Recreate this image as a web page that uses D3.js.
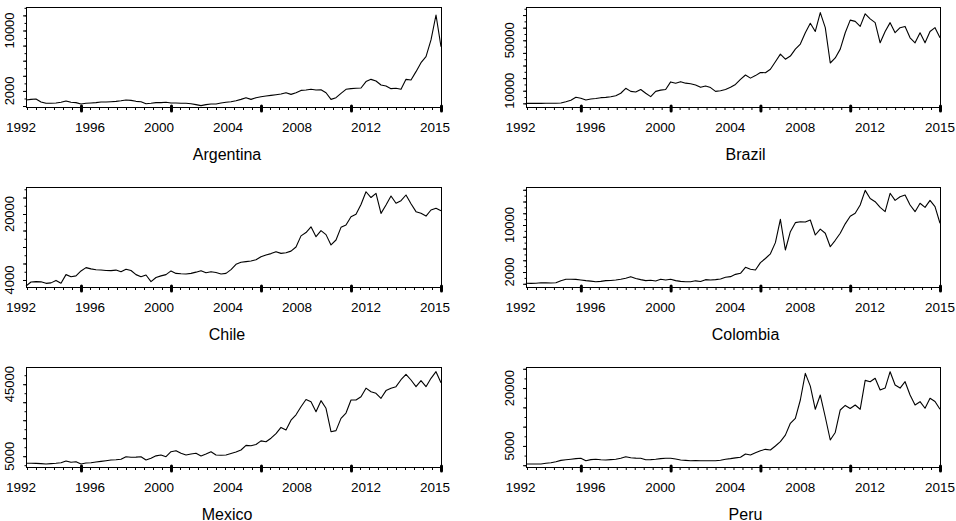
<!DOCTYPE html>
<html><head><meta charset="utf-8">
<script src="https://cdn.jsdelivr.net/npm/d3@7"></script>
<style>body{margin:0;background:#fff}svg{display:block}</style>
</head><body>
<svg id="c" width="956" height="521"></svg>
<script>
// ---- data (index values sampled evenly over the observation range) ----
const countries = ["Argentina","Brazil","Chile","Colombia","Mexico","Peru"];
const xLabels = ["1992","1996","2000","2004","2008","2012","2015"];
const nObs = 4611;
const xMajorTicks = [611,1611,2611,3611,4611];

const argentina = [800,880,920,530,360,360,400,490,660,490,450,270,360,400,450,530,530,570,620,700,800,750,620,570,310,360,450,450,490,400,400,360,360,310,180,50,180,270,270,400,490,570,700,880,1100,880,1100,1230,1320,1410,1500,1590,1760,1540,1760,2070,2120,2210,2120,2160,1760,880,1100,1680,2210,2300,2350,2390,3230,3530,3310,2780,2650,2300,2350,2210,3530,3440,4550,5740,6540,8750,12050,7850];
const brazil = [0,0,0,0,50,50,100,300,1300,2500,4800,4000,2650,3440,3800,4500,4700,5270,6000,8000,11900,9500,9000,11000,8000,5300,9500,10500,11000,17000,15900,17200,16000,15500,14500,12700,13750,12500,9500,10000,11000,12700,15000,19000,22500,20000,22000,24500,24300,27000,33000,39000,35000,37500,43000,47000,56000,63500,57000,72000,60000,32000,36000,43000,56000,66000,65000,61000,71000,67000,64000,48000,57000,64000,56000,60000,61000,52000,48000,56000,48000,57000,60000,52000];
const chile = [2540,3500,3600,3550,3190,3300,3900,3200,5300,4800,5000,6200,7000,6700,6500,6420,6300,6260,6400,6000,6600,6300,5300,4800,5200,3600,4600,5000,5300,6200,5600,5500,5450,5600,5900,6260,5770,6000,5800,5450,5600,6500,7800,8300,8450,8600,8900,9650,10060,10400,10870,10450,10600,11000,12000,14700,15500,16900,14500,15970,15000,12500,13700,16770,17340,19350,19930,22300,25400,24000,25000,20160,22190,24370,22600,23230,24610,22500,20570,20160,19500,20970,21380,20800];
const colombia = [80,60,100,180,150,120,180,500,760,760,740,650,530,450,350,400,530,560,640,780,950,1210,900,700,530,600,470,760,640,760,530,400,350,350,500,380,700,650,700,810,1100,1210,1600,1780,2800,2460,2340,3600,4300,5100,7000,10970,5750,8860,10400,10560,10500,10850,8300,9300,8600,6300,7400,8600,10200,11500,11990,13400,15900,14500,13970,13000,12270,15400,14200,14800,15100,13410,12270,13700,13000,14200,13130,10300];
const mexico = [1056,1056,1000,900,700,900,1100,1390,2330,1600,1960,700,1200,1400,1800,2150,2500,2890,3000,3280,4720,4390,4500,4720,2890,3830,5200,5670,4720,7500,8070,6610,5670,6200,6610,5110,6220,7500,5670,5500,5670,6500,7300,8450,11000,10800,11500,13500,13060,15000,17500,21000,19560,25000,28000,32500,36500,35300,29740,35860,31610,18630,19190,26040,29000,36230,36230,38060,42800,40840,39950,37170,41450,42730,43620,47500,50500,47340,43620,46950,43620,48280,51950,45840];
const peru = [318,318,318,330,500,655,914,1250,1400,1540,1700,1800,1170,1450,1540,1400,1354,1450,1540,1800,2210,1950,1850,1800,1400,1450,1540,1700,1800,1800,1600,1354,1250,1170,1200,1170,1170,1170,1170,1300,1540,1700,1900,2050,2910,2650,3250,3770,4120,3950,4980,6100,7800,10860,12160,16910,23820,20500,14500,18200,12500,6540,8500,14320,15500,14700,15610,14500,22000,21650,22530,19500,20000,24240,20800,20000,21650,18200,15610,16470,14760,17350,16500,14500];

const yTicksArg = [0,2000,4000,6000,8000,10000,12000], yLabArg = [2000,10000];
const yTicksBra = [0,10000,20000,30000,40000,50000,60000,70000], yLabBra = [10000,50000];
const yTicksChi = [4000,8000,12000,16000,20000,24000], yLabChi = [4000,20000];
const yTicksCol = [0,2000,4000,6000,8000,10000,12000,14000,16000], yLabCol = [2000,10000];
const yTicksMex = [5000,15000,25000,35000,45000], yLabMex = [5000,45000];
const yTicksPer = [0,5000,10000,15000,20000,25000], yLabPer = [5000,20000];

// ---- layout ----
const colX = [[26,441],[526,940]];
const rowY = [7,187,367];
const H = 100;
const labelRange = [[-5,-6],[-5.5,0]];
const titleX = [227,745.5];

const panels = [
  {values:argentina, dom:[-130,13110], ticks:yTicksArg, labs:yLabArg, minorStep:1000},
  {values:brazil,    dom:[-2900,76400], ticks:yTicksBra, labs:yLabBra, minorStep:5000},
  {values:chile,     dom:[2300,26550], ticks:yTicksChi, labs:yLabChi, minorStep:2000},
  {values:colombia,  dom:[-550,16470], ticks:yTicksCol, labs:yLabCol, minorStep:1000},
  {values:mexico,    dom:[-1000,54560], ticks:yTicksMex, labs:yLabMex, minorStep:5000},
  {values:peru,      dom:[-460,25460], ticks:yTicksPer, labs:yLabPer, minorStep:2500}
];

const svg = d3.select("#c");
const font = "'Liberation Sans', Arial, Helvetica, sans-serif";

panels.forEach((p, k) => {
  const col = k % 2, row = Math.floor(k / 2);
  const [x0, x1] = colX[col];
  const y0 = rowY[row], y1 = y0 + H;
  const x = d3.scaleLinear().domain([0, nObs]).range([x0, x1]);
  const y = d3.scaleLinear().domain(p.dom).range([y1, y0]);
  const g = svg.append("g");

  // minor x ticks
  const minorX = d3.range(nObs % 100, nObs + 1, 100);
  g.append("g").attr("transform", `translate(0,${y1})`)
    .call(d3.axisBottom(x).tickValues(minorX).tickSize(3).tickFormat(""))
    .call(a => a.select(".domain").remove())
    .call(a => a.selectAll("line").attr("stroke", "#000").attr("stroke-width", 1));
  // bold x ticks
  g.append("g").attr("transform", `translate(0,${y1 - 1})`)
    .call(d3.axisBottom(x).tickValues(xMajorTicks).tickSize(5).tickFormat(""))
    .call(a => a.select(".domain").remove())
    .call(a => a.selectAll("line").attr("stroke", "#000").attr("stroke-width", 3).attr("stroke-linecap","round"));

  // y ticks
  const minorY = d3.range(Math.ceil(p.dom[0] / p.minorStep) * p.minorStep, p.dom[1], p.minorStep);
  g.append("g").attr("transform", `translate(${x0},0)`)
    .call(d3.axisLeft(y).tickValues(minorY).tickSize(1.5).tickFormat(""))
    .call(a => a.select(".domain").remove())
    .call(a => a.selectAll("line").attr("stroke", "#000"));
  g.append("g").attr("transform", `translate(${x0},0)`)
    .call(d3.axisLeft(y).tickValues(p.ticks).tickSize(3).tickFormat(""))
    .call(a => a.select(".domain").remove())
    .call(a => a.selectAll("line").attr("stroke", "#000"));

  // y labels (rotated)
  g.selectAll("text.yl").data(p.labs).enter().append("text")
    .attr("transform", d => `translate(${x0 - 12.5},${y(d)}) rotate(-90)`)
    .attr("text-anchor", "middle")
    .style("font-family", font).style("font-size", "13px").attr("fill", "#000")
    .text(d => d);

  // x labels
  const lp = d3.scalePoint().domain(xLabels).range([x0 + labelRange[col][0], x1 + labelRange[col][1]]);
  g.selectAll("text.xl").data(xLabels).enter().append("text")
    .attr("x", d => lp(d)).attr("y", y1 + 25)
    .attr("text-anchor", "middle")
    .style("font-family", font).style("font-size", "13.5px").attr("fill", "#000")
    .text(d => d);

  // series line
  const line = d3.line()
    .x((d, i) => x(i * nObs / (p.values.length - 1)))
    .y(d => y(d));
  g.append("path").datum(p.values)
    .attr("d", line).attr("fill", "none")
    .attr("stroke", "#000").attr("stroke-width", 1.1).attr("stroke-linejoin", "round");

  // box
  g.append("rect").attr("x", x0 + 0.5).attr("y", y0 + 0.5)
    .attr("width", x1 - x0).attr("height", H)
    .attr("fill", "none").attr("stroke", "#000").attr("stroke-width", 1);

  // title
  g.append("text").attr("x", titleX[col]).attr("y", y1 + 52.5)
    .attr("text-anchor", "middle")
    .style("font-family", font).style("font-size", "16px").attr("fill", "#000")
    .text(countries[k]);
});
</script>
</body></html>
